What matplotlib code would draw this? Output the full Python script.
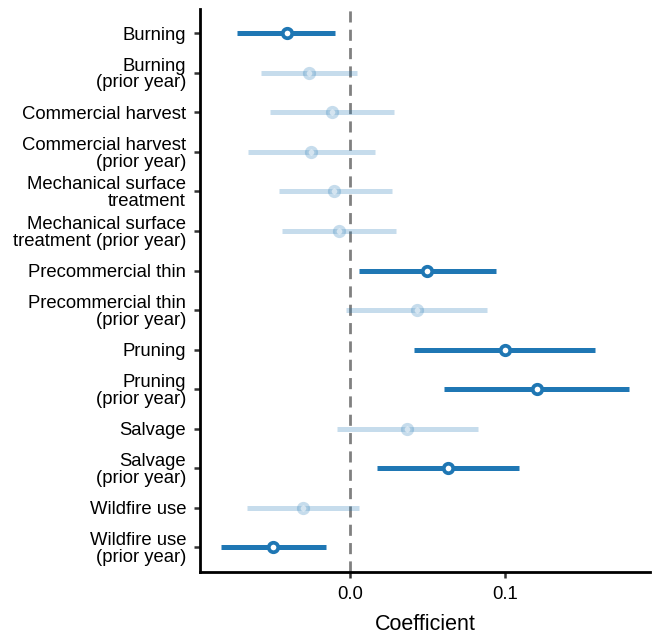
import matplotlib
matplotlib.use("Agg")
import matplotlib.pyplot as plt
import numpy as np

plt.rcParams["font.family"] = ["Liberation Sans", "DejaVu Sans"]

LABELS = [
    "Burning",
    "Burning\n(prior year)",
    "Commercial harvest",
    "Commercial harvest\n(prior year)",
    "Mechanical surface\ntreatment",
    "Mechanical surface\ntreatment (prior year)",
    "Precommercial thin",
    "Precommercial thin\n(prior year)",
    "Pruning",
    "Pruning\n(prior year)",
    "Salvage",
    "Salvage\n(prior year)",
    "Wildfire use",
    "Wildfire use\n(prior year)",
]
ESTIMATE = [-0.0406, -0.0265, -0.0118, -0.0250, -0.0103, -0.0069, 0.0499,
            0.0430, 0.1000, 0.1206, 0.0370, 0.0630, -0.0303, -0.0495]
LOWER = [-0.0729, -0.0574, -0.0518, -0.0658, -0.0456, -0.0437, 0.0058,
         -0.0026, 0.0413, 0.0606, -0.0084, 0.0174, -0.0665, -0.0832]
UPPER = [-0.0097, 0.0045, 0.0282, 0.0159, 0.0271, 0.0299, 0.0942,
         0.0884, 0.1581, 0.1800, 0.0826, 0.1090, 0.0058, -0.0155]
SIGNIFICANT = [True, False, False, False, False, False, True,
               False, True, True, False, True, False, True]

BLUE = "#1f77b4"


def main() -> None:
    fig = plt.figure(figsize=(6.54, 6.35), dpi=100)
    ax = fig.add_axes([0.3058, 0.0992, 0.688, 0.886])

    ax.axvline(0, color="#808080", lw=2, ls=(0, (4, 2.6)), zorder=1)

    y = np.arange(len(LABELS))
    for i in y:
        alpha = 1.0 if SIGNIFICANT[i] else 0.25
        ax.plot([LOWER[i], UPPER[i]], [i, i], color=BLUE, lw=3.6,
                solid_capstyle="butt", alpha=alpha, zorder=2)
        ax.plot(ESTIMATE[i], i, "o", ms=6.8, mfc="white", mec=BLUE,
                mew=2.7, alpha=alpha, zorder=3)

    ax.set_ylim(13.62, -0.6)
    ax.set_xlim(-0.0968, 0.1935)
    ax.set_yticks(y)
    ax.set_yticklabels(LABELS, fontsize=13.3, linespacing=0.98)
    ax.set_xticks([0.0, 0.1])
    ax.set_xticklabels(["0.0", "0.1"], fontsize=13.3)
    ax.set_xlabel("Coefficient", fontsize=15.5, labelpad=8)

    for side in ["top", "right"]:
        ax.spines[side].set_visible(False)
    for side in ["left", "bottom"]:
        ax.spines[side].set_linewidth(2)
        ax.spines[side].set_color("black")
    ax.tick_params(axis="both", length=4, width=1.8, color="#333333", pad=6)

    fig.savefig("out.png", dpi=100)
    plt.close(fig)


if __name__ == "__main__":
    main()
